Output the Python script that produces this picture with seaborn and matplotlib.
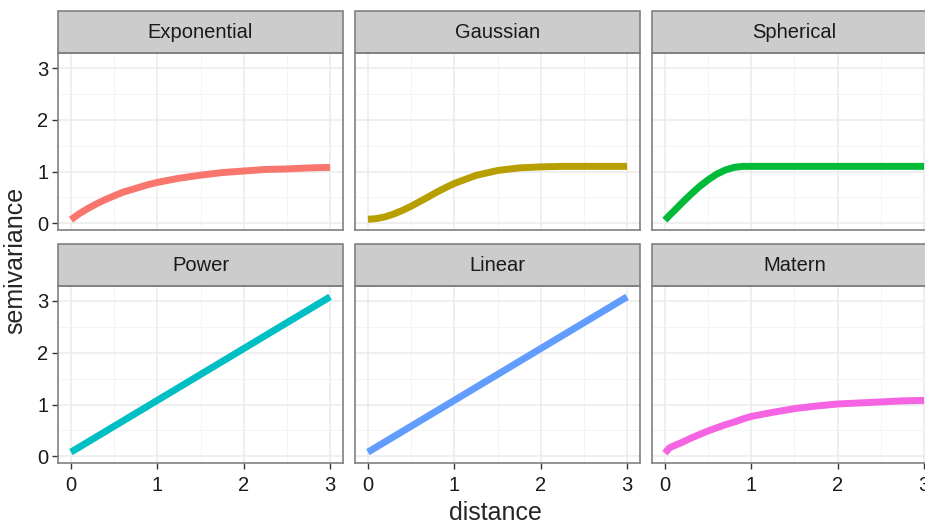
import numpy as np
import pandas as pd
import matplotlib
matplotlib.use("Agg")
import matplotlib.pyplot as plt
from matplotlib.patches import Rectangle
import seaborn as sns

# distance values where the fitted variograms are read
distance = [0, 0.05, 0.1, 0.2, 0.3, 0.4, 0.5, 0.6, 0.7, 0.8, 0.9, 1.0,
            1.25, 1.5, 1.75, 2.0, 2.25, 2.5, 2.75, 3.0]

exponential = [0.07, 0.13, 0.19, 0.29, 0.38, 0.46, 0.53, 0.60, 0.65, 0.70, 0.75, 0.79,
               0.87, 0.93, 0.98, 1.01, 1.04, 1.05, 1.07, 1.08]
gaussian = [0.08, 0.083, 0.092, 0.125, 0.18, 0.25, 0.33, 0.42, 0.51, 0.605, 0.69, 0.77,
            0.925, 1.02, 1.07, 1.09, 1.10, 1.10, 1.10, 1.10]
spherical = [0.06, 0.15, 0.23, 0.40, 0.56, 0.71, 0.84, 0.95, 1.03, 1.08, 1.10, 1.10,
             1.10, 1.10, 1.10, 1.10, 1.10, 1.10, 1.10, 1.10]
power = [0.08, 0.13, 0.18, 0.28, 0.38, 0.48, 0.58, 0.68, 0.78, 0.88, 0.98, 1.08,
         1.33, 1.58, 1.83, 2.08, 2.33, 2.58, 2.83, 3.08]
linear = [0.08, 0.13, 0.18, 0.28, 0.38, 0.48, 0.58, 0.68, 0.78, 0.88, 0.98, 1.08,
          1.33, 1.58, 1.83, 2.08, 2.33, 2.58, 2.83, 3.08]
matern = [0.06, 0.16, 0.20, 0.27, 0.35, 0.42, 0.49, 0.55, 0.61, 0.66, 0.72, 0.77,
          0.85, 0.92, 0.97, 1.01, 1.03, 1.05, 1.07, 1.08]

models = ["Exponential", "Gaussian", "Spherical", "Power", "Linear", "Matern"]
colors = ["#F8766D", "#B79F00", "#00BA38", "#00BFC4", "#619CFF", "#F564E3"]

series = [exponential, gaussian, spherical, power, linear, matern]
df = pd.concat([pd.DataFrame({"model": m, "distance": distance, "semivariance": s})
                for m, s in zip(models, series)], ignore_index=True)

sns.set_theme(style="white")
plt.rcParams["font.family"] = ["Liberation Sans", "DejaVu Sans"]

g = sns.FacetGrid(df, col="model", col_wrap=3, col_order=models, hue="model",
                  hue_order=models, palette=colors, sharex=True, sharey=True,
                  height=2, aspect=1.6)
g.map_dataframe(sns.lineplot, x="distance", y="semivariance", linewidth=5,
                solid_capstyle="butt")
g.figure.set_size_inches(9.25, 5.22)
g.figure.subplots_adjust(left=58/925, right=937/925, top=1-53/522, bottom=1-463/522,
                         wspace=0.042, hspace=0.316)
g.set_titles("")
g.set_axis_labels("", "")

border = "#808080"
for i, (ax, name) in enumerate(zip(g.axes.flat, models)):
    ax.set_xlim(-0.15, 3.15)
    ax.set_ylim(-0.13, 3.29)
    ax.set_xticks([0, 1, 2, 3])
    ax.set_yticks([0, 1, 2, 3])
    ax.set_xticks([0.5, 1.5, 2.5], minor=True)
    ax.set_yticks([0.5, 1.5, 2.5], minor=True)
    ax.grid(True, which="major", color="#EBEBEB", linewidth=1.1)
    ax.grid(True, which="minor", color="#F2F2F2", linewidth=0.6)
    ax.set_axisbelow(True)
    for sp in ax.spines.values():
        sp.set_visible(True)
        sp.set_color(border)
        sp.set_linewidth(1.2)
    ax.tick_params(which="major", length=4, width=1, color="#333333",
                   labelsize=14.5, labelcolor="#1a1a1a")
    # only the outer panels carry axes, like a facet grid
    ax.tick_params(axis="x", which="major", pad=5, bottom=(i >= 3))
    ax.tick_params(axis="y", which="major", pad=3, left=(i % 3 == 0))
    ax.tick_params(which="minor", length=0)
    # strip on top of each panel
    ax.add_patch(Rectangle((0, 1), 1, 0.237, transform=ax.transAxes, clip_on=False,
                           facecolor="#CCCCCC", edgecolor=border, linewidth=1.2))
    ax.text(0.5, 1.118, name, transform=ax.transAxes, ha="center", va="center",
            fontsize=14.5, color="#1a1a1a")

g.figure.text(495/925, 1-520/522, "distance", ha="center", va="baseline", fontsize=18)
g.figure.text(15/925, 1-260/522, "semivariance", ha="center", va="center",
              rotation=90, fontsize=18)

g.figure.savefig("out.png", dpi=100)
